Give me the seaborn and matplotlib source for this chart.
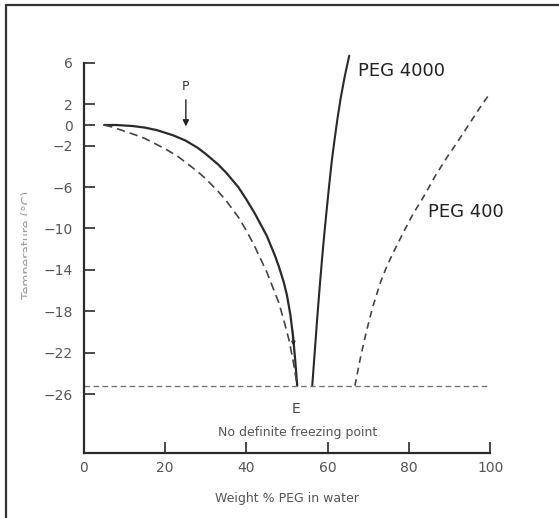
import matplotlib
matplotlib.use('Agg')
import matplotlib.pyplot as plt
import seaborn as sns
from matplotlib.lines import Line2D
from matplotlib.transforms import Bbox

# PEG 4000 (solid), liquidus on the ice side and on the PEG side
peg4000_ice_x = [5, 8, 12, 15, 18, 20, 22, 25, 28, 30, 33, 35, 38, 40, 42, 45, 47, 48,
                 49.2, 50, 50.8, 51.5, 52, 52.5]
peg4000_ice_t = [0, 0.0, -0.1, -0.25, -0.5, -0.75, -1.0, -1.5, -2.2, -2.8, -3.8, -4.6, -6.0,
                 -7.2, -8.5, -10.7, -12.6, -13.7, -15.2, -16.5, -18.3, -20.5, -22.7, -25.2]
peg4000_peg_x = [56.2, 56.8, 57.4, 58.0, 58.6, 59.2, 59.8, 60.4, 61.0, 61.7, 62.4, 63.2,
                 64.2, 65.3]
peg4000_peg_t = [-25.2, -22.0, -18.8, -15.8, -13.0, -10.4, -8.0, -5.7, -3.5, -1.4, 0.6, 2.6,
                 4.7, 6.7]

# PEG 400 (dashed)
peg400_ice_x = [5, 7, 10, 13, 15, 18, 20, 23, 25, 28, 30, 33, 35, 38, 40, 42, 45, 47, 48,
                49.5, 50.5, 51.5, 52.5]
peg400_ice_t = [0, -0.2, -0.6, -1.0, -1.3, -1.9, -2.3, -3.0, -3.6, -4.5, -5.2, -6.4, -7.3,
                -8.9, -10.2, -11.7, -14.2, -16.2, -17.2, -19.3, -20.8, -22.8, -25.2]
peg400_peg_x = [66.7, 68, 69.5, 71, 72.9, 74.3, 75.8, 77.2, 78.6, 81, 83.5, 86.5, 89.4, 92,
                95, 97.5, 100]
peg400_peg_t = [-25.2, -22.6, -20.0, -17.7, -15.3, -13.9, -12.6, -11.5, -10.4, -8.6, -7.0,
                -4.9, -3.1, -1.6, 0.2, 1.7, 3.1]

eutectic_t = -25.2
y_ticks = [6, 2, 0, -2, -6, -10, -14, -18, -22, -26]
x_ticks = [0, 20, 40, 60, 80, 100]

sns.set_theme(style="white", rc={"axes.facecolor": "white", "figure.facecolor": "white"})
plt.rcParams['font.family'] = ['DejaVu Sans']

fig = plt.figure(figsize=(5.59, 5.18), dpi=100)
ax = fig.add_axes([0.150, 0.1255, 0.727, 0.773])

ink = "#2a2a2a"
sns.lineplot(x=peg4000_ice_x, y=peg4000_ice_t, sort=False, estimator=None, color=ink, lw=1.6, ax=ax)
sns.lineplot(x=peg4000_peg_x, y=peg4000_peg_t, sort=False, estimator=None, color=ink, lw=1.5, ax=ax)
sns.lineplot(x=peg400_ice_x, y=peg400_ice_t, sort=False, estimator=None, color="#444444", lw=1.2,
             ax=ax).lines[-1].set_dashes([5, 3])
sns.lineplot(x=peg400_peg_x, y=peg400_peg_t, sort=False, estimator=None, color="#444444", lw=1.2,
             ax=ax).lines[-1].set_dashes([4, 3])
for ln in ax.lines:
    ln.set_clip_on(False)
    ln.set_solid_capstyle("round")

ax.axhline(eutectic_t, xmin=0, xmax=1, color="#777777", lw=1.0, dashes=[4, 2.5])

ax.set_xlim(0, 100)
ax.set_ylim(-31.7, 7)
ax.set_xticks(x_ticks)
ax.set_yticks(y_ticks)
ax.set_yticklabels([f"{t:d}".replace("-", "\u2212") for t in y_ticks])
ax.tick_params(axis="y", direction="in", length=8, width=1.2, color=ink, pad=8,
               labelsize=10, labelcolor="#555555", left=True)
ax.tick_params(axis="x", direction="in", length=8, width=1.2, color=ink, pad=6,
               labelsize=10, labelcolor="#555555", bottom=True)

for side in ["top", "right"]:
    ax.spines[side].set_visible(False)
ax.spines["left"].set_bounds(-31.7, 6)
for side in ["left", "bottom"]:
    ax.spines[side].set_color(ink)
    ax.spines[side].set_linewidth(1.6)

ax.set_xlabel("Weight % PEG in water", fontsize=9, color="#555555", labelpad=12)
ax.set_ylabel("")

ax.text(67.4, 5.2, "PEG 4000", fontsize=13, color="#222222", va="center", ha="left")
ax.text(84.6, -8.4, "PEG 400", fontsize=13, color="#222222", va="center", ha="left")
ax.text(25.1, 3.7, "P", fontsize=9, color="#333333", ha="center", va="center")
ax.annotate("", xy=(25.1, -0.4), xytext=(25.1, 2.7),
            arrowprops=dict(arrowstyle="-|>", color="#222222", lw=1.0, mutation_scale=9))
ax.annotate("", xy=(51.7, -21.6), xytext=(51.3, -19.6),
            arrowprops=dict(arrowstyle="-|>", color="#222222", lw=0.8, mutation_scale=6))
ax.text(52.2, -27.4, "E", fontsize=10, color="#444444", ha="center", va="center")
ax.text(52.5, -29.7, "No definite freezing point", fontsize=9, color="#555555",
        ha="center", va="center")

# faint, half-cut axis title at the far left
yl = fig.text(28 / 559, 1 - 245 / 518, "Temperature (\u00b0C)", rotation=90, fontsize=9,
              color="#9a9a9a", ha="center", va="center")
yl.set_clip_box(Bbox.from_extents(0, 0, 27, 518))
yl.set_clip_on(True)

# page frame: left and top edges
fig.add_artist(Line2D([5.5 / 559, 5.5 / 559], [0, 1 - 4.5 / 518], color="#333333", lw=1.6,
                      transform=fig.transFigure))
fig.add_artist(Line2D([5.5 / 559, 1], [1 - 4.5 / 518, 1 - 4.5 / 518], color="#333333", lw=1.6,
                      transform=fig.transFigure))

fig.savefig("out.png", dpi=100, facecolor="white")
plt.close(fig)
